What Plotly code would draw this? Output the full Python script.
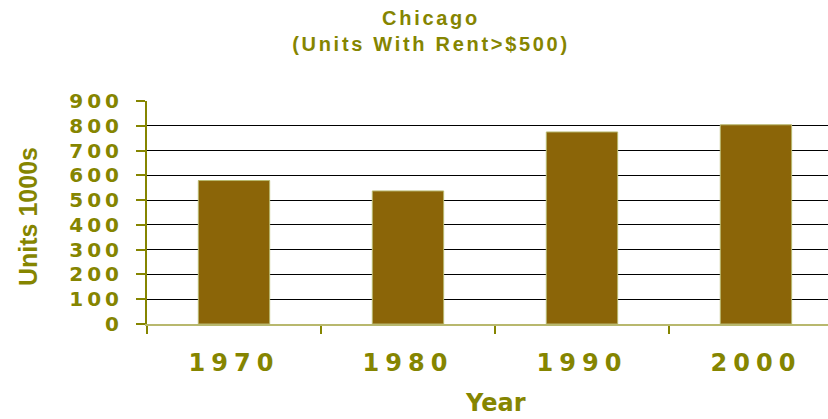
import plotly.graph_objects as go

years = ["1970", "1980", "1990", "2000"]
units = [579, 537, 775, 804]
y_ticks = [0, 100, 200, 300, 400, 500, 600, 700, 800, 900]

OLIVE = "#858500"
BAR = "#8B6508"
LIGHT_OLIVE = "#B8B86E"

W, H = 828, 419
L, R, T, B = 147, 0, 101, 95
PW, PH = W - L - R, H - T - B


def px_x(px):
    return (px - L) / PW


def px_y(py):
    return (H - B - py) / PH


fig = go.Figure()
fig.add_trace(go.Bar(
    x=years, y=units, width=0.41,
    marker=dict(color=BAR, line=dict(color=LIGHT_OLIVE, width=1)),
))

fig.update_layout(
    width=W, height=H, autosize=False,
    margin=dict(l=L, r=R, t=T, b=B),
    paper_bgcolor="white", plot_bgcolor="white",
    showlegend=False,
    title=dict(
        text="Chicago<br>(Units With Rent>$500)",
        font=dict(family="Liberation Sans", size=20, color=OLIVE, weight="bold"),
        x=431 / W, xanchor="center", xref="container",
        y=1 - 25 / H, yanchor="top", yref="container",
    ),
    xaxis=dict(
        type="category", range=[-0.5, 3.414],
        showline=True, linecolor=LIGHT_OLIVE, linewidth=2,
        ticks="outside", tickson="boundaries", ticklen=8, tickcolor=OLIVE, tickwidth=2,
        showgrid=False, automargin=False,
        ticklabelstandoff=16,
        tickfont=dict(family="DejaVu Sans", size=24, color=OLIVE, weight="bold"),
    ),
    yaxis=dict(
        range=[0, 900], tickvals=y_ticks,
        showline=True, linecolor=OLIVE, linewidth=2,
        ticks="outside", ticklen=9, tickcolor=OLIVE, tickwidth=2,
        showgrid=True, gridcolor="black", gridwidth=1,
        zeroline=False, automargin=False,
        ticklabelstandoff=9,
        tickfont=dict(family="DejaVu Sans", size=20, color=OLIVE, weight="bold"),
    ),
    annotations=[
        dict(text="Year", xref="paper", yref="paper",
             x=px_x(495), y=px_y(403), xanchor="center", yanchor="middle",
             showarrow=False,
             font=dict(family="DejaVu Sans", size=24, color=OLIVE, weight="bold")),
        dict(text="Units 1000s", xref="paper", yref="paper",
             x=px_x(28), y=px_y(217), xanchor="center", yanchor="middle",
             textangle=-90, showarrow=False,
             font=dict(family="Liberation Sans", size=25, color=OLIVE, weight="bold")),
    ],
)

post = """
document.documentElement.style.margin = '0';
document.body.style.margin = '0';
document.body.style.overflow = 'hidden';
var gd = document.getElementById('{plot_id}');
function spacing() {
  gd.querySelectorAll('.xtick text').forEach(function(t){ t.style.letterSpacing = '6px'; });
  gd.querySelectorAll('.ytick text').forEach(function(t){ t.style.letterSpacing = '4px'; });
  gd.querySelectorAll('.gtitle').forEach(function(t){ t.style.letterSpacing = '2.7px'; });
}
spacing();
gd.on('plotly_afterplot', spacing);
"""

fig.write_html("out.html", post_script=post, config={"displayModeBar": False})
